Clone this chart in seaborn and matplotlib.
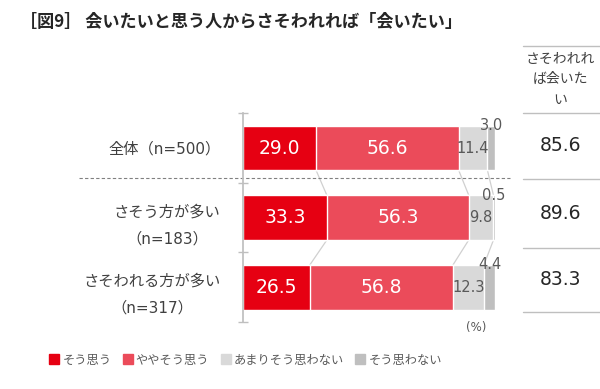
import pandas as pd
import matplotlib.pyplot as plt
import seaborn as sns
from matplotlib.lines import Line2D

# Data
groups = ["全体（n=500）", "さそう方が多い\n（n=183）", "さそわれる方が多い\n（n=317）"]
answers = ["そう思う", "ややそう思う", "あまりそう思わない", "そう思わない"]
agree = [29.0, 33.3, 26.5]
somewhat = [56.6, 56.3, 56.8]
not_much = [11.4, 9.8, 12.3]
disagree = [3.0, 0.5, 4.4]
want_to_meet = [85.6, 89.6, 83.3]
table_header = "さそわれれ\nば会いた\nい"
colors = ["#E60012", "#EB4B5A", "#D9D9D9", "#BFBFBF"]

df = pd.DataFrame({"group": groups, answers[0]: agree, answers[1]: somewhat,
                   answers[2]: not_much, answers[3]: disagree})
cum = df[answers].cumsum(axis=1)

sns.set_theme(style="white")
plt.rcParams["font.family"] = ["DejaVu Sans", "Noto Sans CJK JP"]

fig = plt.figure(figsize=(6, 3.89), dpi=100)
ax = fig.add_axes([0.405, 0.172, 0.42, 0.537])

# stacked bars: draw cumulative totals from the back
bar_w = 0.64
for i in reversed(range(len(answers))):
    sns.barplot(x=cum[answers[i]], y=df["group"], color=colors[i], orient="h",
                width=bar_w, edgecolor="white", linewidth=1, saturation=1, ax=ax)

ax.set_xlim(0, 100)
ax.set_ylim(2.5, -0.5)
ax.set_xticks([])
ax.set_xlabel("")
ax.set_ylabel("")
for s in ["top", "right", "bottom"]:
    ax.spines[s].set_visible(False)
ax.spines["left"].set_color("#BFBFBF")

ax.tick_params(axis="y", which="major", length=0, pad=16, labelsize=11, labelcolor="#404040")
ax.set_yticks([-0.5, 0.5, 1.5, 2.5], minor=True)
ax.tick_params(axis="y", which="minor", left=True, length=7, direction="inout",
               color="#BFBFBF", width=1)
for lab in ax.get_yticklabels():
    lab.set_multialignment("center")
    lab.set_linespacing(2.0)

# value labels
h = bar_w / 2
for r in range(len(groups)):
    for j, a in enumerate(answers):
        v = df.loc[r, a]
        xc = cum.loc[r, a] - v / 2
        if j < 2:
            ax.text(xc, r, f"{v:.1f}", ha="center", va="center", color="white", fontsize=13.5)
        elif j == 2:
            ax.text(xc, r, f"{v:.1f}", ha="center", va="center", color="#595959", fontsize=10.5)
        else:
            ax.text(xc, r - h, f"{v:.1f}", ha="center", va="center", color="#595959", fontsize=10.5)

# connector lines between bars
for r in range(len(groups) - 1):
    for a in answers[:3]:
        ax.plot([cum.loc[r, a], cum.loc[r + 1, a]], [r + h, r + 1 - h],
                color="#D0D0D0", lw=0.9, zorder=0)

# dashed separator under total
ax.plot([-65, 106], [0.43, 0.43], ls=(0, (3, 2)), color="#808080", lw=0.8, clip_on=False)

# right table
row_lines = [-1.47, -0.51, 0.45, 1.43, 2.36]
for y in row_lines:
    ax.plot([111, 142], [y, y], color="#BFBFBF", lw=1, clip_on=False)
ax.text(126, (row_lines[0] + row_lines[1]) / 2, table_header, ha="center", va="center",
        fontsize=10, color="#404040", linespacing=1.6)
for r, v in enumerate(want_to_meet):
    ax.text(126, (row_lines[r + 1] + row_lines[r + 2]) / 2, f"{v:.1f}", ha="center",
            va="center", fontsize=13.5, color="#262626")

# title and notes
fig.text(0.033, 1 - 22 / 389, "［図9］ 会いたいと思う人からさそわれれば「会いたい」",
         fontsize=12.3, fontweight="bold", color="#262626", va="center",
         family=["Noto Sans CJK JP", "DejaVu Sans"])
fig.text(476 / 600, 1 - 327 / 389, "(%)", ha="center", va="center", fontsize=8.5, color="#595959")

handles = [Line2D([], [], marker="s", ls="", color=c, markersize=6.5) for c in colors]
fig.legend(handles, answers, loc="center", bbox_to_anchor=(0.41, 1 - 360 / 389), ncol=4,
           frameon=False, fontsize=8.8, handlelength=0.7, handletextpad=0.3,
           columnspacing=1.0, labelcolor="#595959")

fig.savefig("out.png", dpi=100)
